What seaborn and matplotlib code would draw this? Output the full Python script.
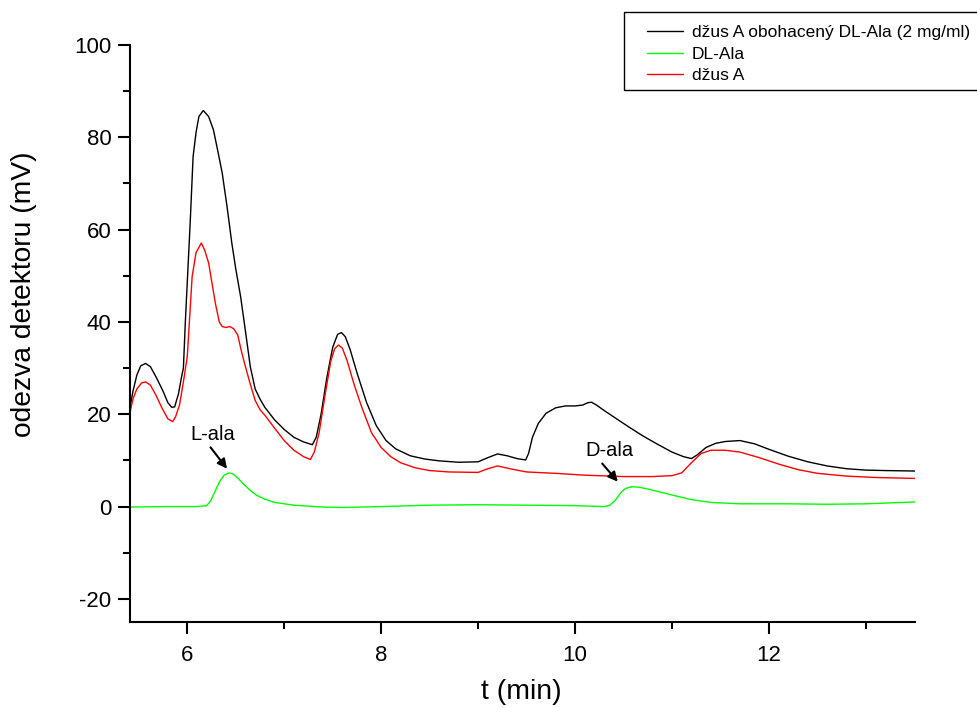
import pandas as pd
import matplotlib
matplotlib.use('Agg')
import matplotlib.pyplot as plt
from matplotlib.patches import Rectangle
from matplotlib.ticker import MultipleLocator
import seaborn as sns

# chromatogram (t in min, response in mV)
t_spiked = [5.41, 5.44, 5.48, 5.52, 5.57, 5.62, 5.68, 5.75, 5.80, 5.84, 5.87, 5.91, 5.94, 5.96,
            5.98, 6.03, 6.06, 6.09, 6.12, 6.165, 6.22, 6.27, 6.32, 6.36, 6.41, 6.46, 6.50,
            6.55, 6.60, 6.65, 6.70, 6.75, 6.80, 6.90, 7.00, 7.10, 7.20, 7.29, 7.33, 7.38, 7.44,
            7.50, 7.55, 7.59, 7.63, 7.68, 7.75, 7.85, 7.95, 8.05, 8.15, 8.30, 8.45, 8.60, 8.80,
            9.00, 9.10, 9.20, 9.30, 9.40, 9.49, 9.52, 9.56, 9.62, 9.70, 9.80, 9.90, 10.00,
            10.08, 10.13, 10.17, 10.22, 10.30, 10.40, 10.55, 10.70, 10.85, 11.00, 11.12, 11.20,
            11.26, 11.35, 11.45, 11.55, 11.70, 11.85, 12.00, 12.20, 12.40, 12.60, 12.80, 13.00,
            13.20, 13.51]
y_spiked = [21.5, 25.0, 28.5, 30.5, 31.0, 30.3, 28.0, 25.0, 22.5, 21.5, 21.6, 24.5, 28.0, 30.0,
            40.0, 61.5, 75.8, 81.0, 84.5, 85.8, 84.5, 81.6, 76.5, 72.3, 65.0, 57.0, 51.5,
            45.5, 38.0, 30.3, 25.5, 23.3, 21.5, 18.8, 16.7, 15.0, 14.0, 13.4, 15.0, 20.0, 28.0,
            34.5, 37.3, 37.7, 36.8, 34.0, 29.0, 22.5, 17.5, 14.3, 12.5, 11.0, 10.3, 9.9, 9.6,
            9.7, 10.6, 11.4, 11.0, 10.4, 10.1, 11.5, 15.0, 18.0, 20.2, 21.4, 21.8, 21.8,
            22.0, 22.5, 22.6, 22.0, 20.8, 19.4, 17.3, 15.3, 13.5, 11.8, 10.8, 10.4,
            11.2, 12.8, 13.7, 14.1, 14.3, 13.6, 12.4, 10.9, 9.7, 8.8, 8.2, 7.9,
            7.8, 7.7]

t_std = [5.41, 5.80, 6.10, 6.20, 6.24, 6.28, 6.33, 6.38, 6.43, 6.47, 6.52, 6.58, 6.65, 6.72,
         6.80, 6.90, 7.10, 7.40, 7.60, 8.00, 8.50, 9.00, 9.50, 10.00, 10.30, 10.36, 10.42,
         10.47, 10.52, 10.58, 10.66, 10.75, 10.85, 11.00, 11.20, 11.40, 11.70, 12.20, 12.60,
         13.00, 13.51]
y_std = [-0.1, 0.0, 0.0, 0.2, 1.2, 3.0, 5.3, 6.8, 7.3, 7.1, 6.2, 4.9, 3.5, 2.4,
         1.6, 0.9, 0.3, -0.1, -0.2, 0.0, 0.3, 0.4, 0.3, 0.2, 0.0, 0.3, 1.5,
         3.0, 3.9, 4.3, 4.2, 3.8, 3.3, 2.5, 1.5, 0.9, 0.6, 0.6, 0.5,
         0.6, 1.0]

t_juice = [5.41, 5.44, 5.48, 5.53, 5.57, 5.62, 5.68, 5.74, 5.80, 5.85, 5.88, 5.92, 5.96, 6.00,
           6.05, 6.09, 6.145, 6.18, 6.22, 6.29, 6.33, 6.36, 6.40, 6.44, 6.48, 6.52, 6.56,
           6.60, 6.65, 6.70, 6.75, 6.80, 6.90, 7.00, 7.10, 7.20, 7.27, 7.31, 7.36, 7.42, 7.48,
           7.52, 7.56, 7.60, 7.65, 7.72, 7.80, 7.90, 8.00, 8.10, 8.20, 8.35, 8.50, 8.70,
           9.00, 9.10, 9.20, 9.35, 9.50, 9.80, 10.10, 10.50, 10.80, 11.00, 11.10, 11.20, 11.30,
           11.40, 11.55, 11.70, 11.90, 12.10, 12.30, 12.50, 12.80, 13.10, 13.51]
y_juice = [20.5, 23.3, 25.5, 26.8, 27.0, 26.3, 24.0, 21.3, 19.0, 18.4, 19.5, 22.0, 27.0, 32.5,
           49.8, 55.0, 57.1, 55.5, 52.8, 44.0, 40.0, 39.0, 38.8, 39.0, 38.5, 37.2, 33.5,
           30.3, 26.5, 23.0, 21.0, 19.8, 17.0, 14.3, 12.2, 10.8, 10.2, 11.8, 16.0, 24.0, 31.5,
           34.2, 35.0, 34.3, 31.5, 26.5, 21.5, 16.0, 12.8, 10.8, 9.5, 8.4, 7.8, 7.5,
           7.4, 8.2, 8.8, 8.1, 7.5, 7.2, 6.8, 6.5, 6.5, 6.7, 7.3, 9.5, 11.5,
           12.2, 12.2, 11.8, 10.6, 9.2, 8.0, 7.2, 6.6, 6.3, 6.1]

labels = ['džus A obohacený DL-Ala (2 mg/ml)', 'DL-Ala', 'džus A']
colors = ['black', '#00ff00', '#ff0000']

df = pd.concat([
    pd.DataFrame({'t': t_spiked, 'mV': y_spiked, 'vzorka': labels[0]}),
    pd.DataFrame({'t': t_std, 'mV': y_std, 'vzorka': labels[1]}),
    pd.DataFrame({'t': t_juice, 'mV': y_juice, 'vzorka': labels[2]}),
], ignore_index=True)

sns.set_style('ticks')
plt.rcParams['font.family'] = ['Liberation Sans', 'DejaVu Sans']
plt.rcParams['axes.unicode_minus'] = False
for k in ['text.color', 'axes.labelcolor', 'xtick.color', 'ytick.color', 'axes.edgecolor']:
    plt.rcParams[k] = 'black'

fig = plt.figure(figsize=(9.78, 7.08), dpi=100)
ax = fig.add_axes([0.133, 0.1215, 0.803, 0.815])

sns.lineplot(data=df, x='t', y='mV', hue='vzorka', hue_order=labels,
             palette=dict(zip(labels, colors)), sort=False, estimator=None,
             linewidth=1.0, ax=ax)

ax.set_xlim(5.41, 13.51)
ax.set_ylim(-25, 100)
ax.xaxis.set_major_locator(MultipleLocator(2))
ax.xaxis.set_minor_locator(MultipleLocator(1))
ax.yaxis.set_major_locator(MultipleLocator(20))
ax.yaxis.set_minor_locator(MultipleLocator(10))
ax.tick_params(which='major', direction='out', length=8.5, width=1.5, labelsize=16)
ax.tick_params(axis='y', which='major', pad=5)
ax.tick_params(axis='x', which='major', pad=8)
ax.tick_params(which='minor', direction='out', length=5, width=1.5)
for s in ['top', 'right']:
    ax.spines[s].set_visible(False)
for s in ['left', 'bottom']:
    ax.spines[s].set_linewidth(1.5)

ax.set_xlabel('t (min)', fontsize=20.5)
ax.set_ylabel('odezva detektoru (mV)', fontsize=20.3)
ax.xaxis.set_label_coords(0.498, -0.099)
ax.yaxis.set_label_coords(-0.118, 0.5676)

arrow = dict(arrowstyle='-|>', color='black', lw=1.5, mutation_scale=14, shrinkA=0, shrinkB=0)
ax.annotate('L-ala', xy=(6.41, 8.2), xytext=(6.26, 15.6), fontsize=14.5,
            ha='center', va='center', arrowprops=dict(arrow, relpos=(0.4, 0.0)))
ax.annotate('D-ala', xy=(10.44, 5.4), xytext=(10.35, 12.1), fontsize=14.5,
            ha='center', va='center', arrowprops=dict(arrow, relpos=(0.3, 0.0)))

leg = ax.legend(loc='upper left', bbox_to_anchor=(647 / 978, 1 - 24.5 / 708),
                bbox_transform=fig.transFigure, fontsize=12.5, frameon=False,
                handlelength=2.07, handletextpad=0.52, labelspacing=0.39, borderpad=0,
                borderaxespad=0)
for h in leg.get_lines():
    h.set_linewidth(1.0)
# legend box drawn as in the original export (runs off the right edge)
fig.patches.append(Rectangle((624 / 978, 1 - 90 / 708), 370 / 978, 78 / 708,
                             transform=fig.transFigure, fill=False,
                             edgecolor='black', linewidth=1.0))

fig.savefig('out.png', dpi=100)
